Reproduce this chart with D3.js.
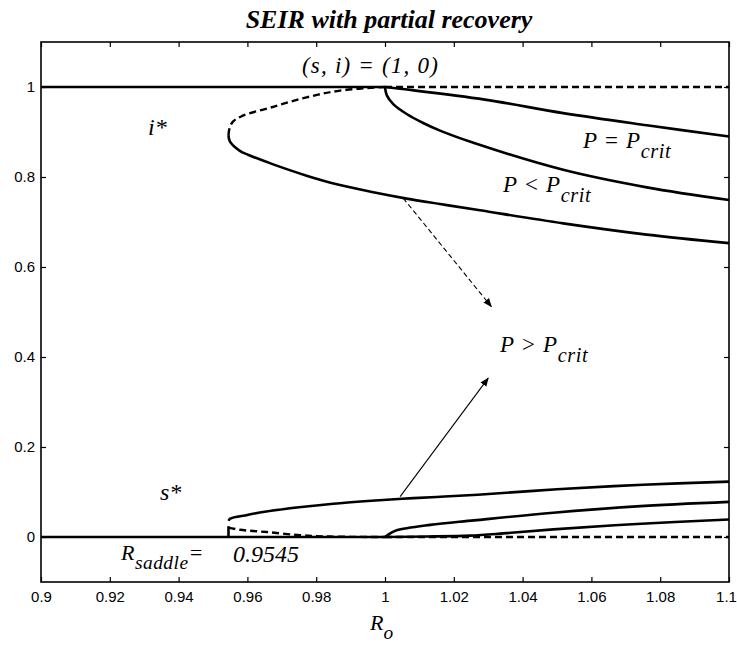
<!DOCTYPE html>
<html>
<head>
<meta charset="utf-8">
<script src="https://cdn.jsdelivr.net/npm/d3@7"></script>
<style>
  body { margin: 0; background: #fff; }
  .tick text { font-family: "Liberation Sans", Arial, sans-serif; font-size: 15px; fill: #000; }
  .lbl { font-family: "Liberation Serif", "DejaVu Serif", serif; font-style: italic; fill: #000; }
</style>
</head>
<body>
<svg id="chart" width="737" height="645"></svg>
<script>
// axis ticks
const xTicks = [0.9, 0.92, 0.94, 0.96, 0.98, 1.0, 1.02, 1.04, 1.06, 1.08, 1.1];
const xTickLabels = ["0.9", "0.92", "0.94", "0.96", "0.98", "1", "1.02", "1.04", "1.06", "1.08", "1.1"];
const yTicks = [0, 0.2, 0.4, 0.6, 0.8, 1.0];
const yTickLabels = ["0", "0.2", "0.4", "0.6", "0.8", "1"];

// disease free state (s, i) = (1, 0)
const topSolid = [[0.9, 1], [1.0, 1]];
const topDashed = [[1.0, 1], [1.1, 1]];
const zeroSolid = [[0.9, 0], [1.0, 0]];
const zeroDashed = [[1.0, 0], [1.1, 0]];

// i* branches
const iUnstable = [[0.9545, 0.893], [0.9548, 0.908], [0.9558, 0.923], [0.9583, 0.935], [0.9675, 0.956],
  [0.9772, 0.977], [0.9869, 0.992], [1.0, 1.0]];
const iLow = [[0.9545, 0.893], [0.9549, 0.879], [0.9578, 0.858], [0.9603, 0.849], [0.9675, 0.828],
  [0.9772, 0.803], [0.9869, 0.782], [0.9966, 0.766], [1.0063, 0.752], [1.016, 0.740], [1.0276, 0.726],
  [1.0518, 0.697], [1.0761, 0.672], [1.1, 0.653]];
const iMid = [[1.0, 1.0], [1.0005, 0.982], [1.0024, 0.962], [1.0063, 0.940], [1.0111, 0.920], [1.016, 0.903],
  [1.0257, 0.876], [1.0518, 0.816], [1.0761, 0.777], [1.1, 0.749]];
const iCrit = [[1.0, 1.0], [1.0044, 0.996], [1.029, 0.972], [1.0518, 0.942], [1.0761, 0.915], [1.1, 0.89]];

// s* branches
const sUpper = [[0.9545, 0.036], [0.955, 0.041], [0.960, 0.049], [0.965, 0.056], [0.975, 0.066], [0.985, 0.074],
  [0.995, 0.080], [1.005, 0.085], [1.015, 0.089], [1.027, 0.094], [1.05, 0.106], [1.075, 0.116], [1.1, 0.123]];
const sSaddle = [[0.9545, 0], [0.9545, 0.024]];
const sUnstable = [[0.9545, 0.021], [0.9578, 0.016], [0.9656, 0.011], [0.9753, 0.004], [0.984, 0.001], [1.0, 0]];
const sMid = [[1.0, 0], [1.0015, 0.008], [1.0034, 0.015], [1.0131, 0.027], [1.0259, 0.037], [1.0489, 0.054],
  [1.0732, 0.068], [1.1, 0.078]];
const sLow = [[1.0, 0], [1.012, 0.001], [1.0247, 0.003], [1.0344, 0.008], [1.0489, 0.017], [1.0732, 0.029], [1.1, 0.039]];

// annotation arrows
const arrowDashed = [[1.0053, 0.753], [1.0309, 0.512]];
const arrowSolid = [[1.0044, 0.0896], [1.030, 0.353]];

const width = 737, height = 645;
const margin = { top: 42, right: 8, bottom: 63, left: 41 };

const svg = d3.select("#chart");

const x = d3.scaleLinear().domain([0.9, 1.1]).range([margin.left, width - margin.right]);
const y = d3.scaleLinear().domain([-0.1, 1.1]).range([height - margin.bottom, margin.top]);

const defs = svg.append("defs");
defs.append("marker")
  .attr("id", "head")
  .attr("viewBox", "0 0 10 10")
  .attr("refX", 9).attr("refY", 5)
  .attr("markerWidth", 9).attr("markerHeight", 9)
  .attr("markerUnits", "userSpaceOnUse")
  .attr("orient", "auto")
  .append("path").attr("d", "M0,1 L10,5 L0,9 Z").attr("fill", "#000");

// axes: inward ticks on all four sides
const fmtX = d => xTickLabels[xTicks.indexOf(d)];
const fmtY = d => yTickLabels[yTicks.indexOf(d)];

svg.append("g")
  .attr("transform", `translate(0,${height - margin.bottom})`)
  .call(d3.axisBottom(x).tickValues(xTicks).tickFormat(fmtX).tickSize(-5).tickPadding(9))
  .call(g => g.select(".domain").remove())
  .call(g => g.selectAll(".tick:last-of-type text").attr("dx", -3));
svg.append("g")
  .attr("transform", `translate(0,${margin.top})`)
  .call(d3.axisTop(x).tickValues(xTicks).tickFormat("").tickSize(-5))
  .call(g => g.select(".domain").remove());
svg.append("g")
  .attr("transform", `translate(${margin.left},0)`)
  .call(d3.axisLeft(y).tickValues(yTicks).tickFormat(fmtY).tickSize(-5).tickPadding(6))
  .call(g => g.select(".domain").remove());
svg.append("g")
  .attr("transform", `translate(${width - margin.right},0)`)
  .call(d3.axisRight(y).tickValues(yTicks).tickFormat("").tickSize(-5))
  .call(g => g.select(".domain").remove());

svg.selectAll(".tick line").attr("stroke", "#000").attr("stroke-width", 1.2);

// frame
svg.append("rect")
  .attr("x", x(0.9)).attr("y", y(1.1))
  .attr("width", x(1.1) - x(0.9)).attr("height", y(-0.1) - y(1.1))
  .attr("fill", "none").attr("stroke", "#000").attr("stroke-width", 1.6);

const line = d3.line().x(d => x(d[0])).y(d => y(d[1])).curve(d3.curveCatmullRom.alpha(0.5));

const solid = [topSolid, zeroSolid, iLow, iMid, iCrit, sUpper, sSaddle, sMid, sLow];
const dashed = [topDashed, zeroDashed, iUnstable, sUnstable];

svg.append("g").selectAll("path").data(solid).join("path")
  .attr("d", line).attr("fill", "none").attr("stroke", "#000").attr("stroke-width", 2.6);
svg.append("g").selectAll("path").data(dashed).join("path")
  .attr("d", line).attr("fill", "none").attr("stroke", "#000").attr("stroke-width", 2.4)
  .attr("stroke-dasharray", "7,4");

svg.append("path").datum(arrowDashed)
  .attr("d", d3.line().x(d => x(d[0])).y(d => y(d[1])))
  .attr("fill", "none").attr("stroke", "#000").attr("stroke-width", 1.1)
  .attr("stroke-dasharray", "5,3").attr("marker-end", "url(#head)");
svg.append("path").datum(arrowSolid)
  .attr("d", d3.line().x(d => x(d[0])).y(d => y(d[1])))
  .attr("fill", "none").attr("stroke", "#000").attr("stroke-width", 1.1)
  .attr("marker-end", "url(#head)");

// title
svg.append("text").attr("class", "lbl")
  .attr("x", 389).attr("y", 28).attr("text-anchor", "middle")
  .attr("font-size", 26).attr("font-weight", "bold")
  .text("SEIR with partial recovery");

// text labels
function label(px, py, size, main, sub, extra, spacing) {
  const t = svg.append("text").attr("class", "lbl").attr("x", px).attr("y", py).attr("font-size", size);
  if (spacing) t.attr("letter-spacing", spacing);
  t.append("tspan").text(main);
  if (sub) t.append("tspan").attr("dy", size * 0.42).attr("font-size", size * 0.88).text(sub);
  if (extra) t.append("tspan").attr("dy", -size * 0.42).text(extra);
  return t;
}

label(302, 73, 23, "(s, i) = (1, 0)", null, null, 1.2);
label(148, 135, 24, "i*");
label(160, 500, 24, "s*");
label(583, 148, 23, "P = P", "crit", null, 0.6);
label(503, 192, 23, "P < P", "crit", null, 0.6);
label(500, 352, 23, "P > P", "crit", null, 0.6);
label(121, 560, 22, "R", "saddle", "=", 0.5);
label(233, 562, 24, "0.9545");
label(370, 630, 22, "R", "o");
</script>
</body>
</html>
